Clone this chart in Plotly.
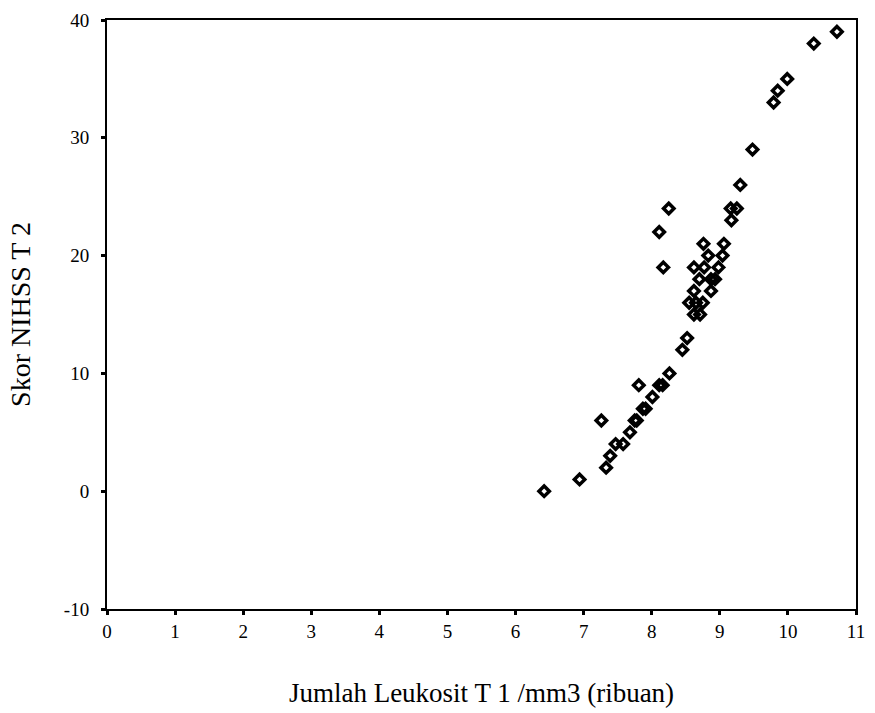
import plotly.graph_objects as go

leukosit = [6.42, 6.94, 7.33, 7.39, 7.47, 7.58, 7.68, 7.26, 7.75, 7.78, 7.87, 7.91,
            8.01, 7.81, 8.11, 8.16, 8.26, 8.45, 8.52, 8.62, 8.71, 8.55, 8.65, 8.75,
            8.62, 8.87, 8.70, 8.87, 8.93, 8.17, 8.62, 8.77, 8.98, 8.83, 9.04, 8.76,
            9.06, 8.11, 9.17, 8.25, 9.16, 9.25, 9.30, 9.48, 9.79, 9.85, 9.99, 10.38, 10.72]
nihss = [0, 1, 2, 3, 4, 4, 5, 6, 6, 6, 7, 7,
         8, 9, 9, 9, 10, 12, 13, 15, 15, 16, 16, 16,
         17, 17, 18, 18, 18, 19, 19, 19, 19, 20, 20, 21,
         21, 22, 23, 24, 24, 24, 26, 29, 33, 34, 35, 38, 39]

x_ticks = list(range(0, 12))
y_ticks = [-10, 0, 10, 20, 30, 40]

font_family = "Liberation Serif, Times New Roman, serif"

fig = go.Figure()
fig.add_trace(go.Scatter(
    x=leukosit, y=nihss, mode="markers",
    marker=dict(symbol="diamond-open", size=8, color="black",
                line=dict(color="black", width=3.5)),
    showlegend=False,
))

fig.update_layout(
    width=875, height=713,
    margin=dict(l=107, r=10, t=19, b=102),
    paper_bgcolor="white", plot_bgcolor="white",
    font=dict(family=font_family, color="black"),
    xaxis=dict(
        range=[0, 11], tickvals=x_ticks, ticktext=[str(v) for v in x_ticks],
        showgrid=False, zeroline=False,
        showline=True, linecolor="black", linewidth=2, mirror=True,
        ticks="outside", ticklen=4, tickwidth=3, tickcolor="black",
        tickfont=dict(size=19, family=font_family),
        title=dict(text="Jumlah Leukosit T 1 /mm3 (ribuan)",
                   font=dict(size=27, family=font_family), standoff=42),
    ),
    yaxis=dict(
        range=[-10, 40], tickvals=y_ticks, ticktext=[str(v) for v in y_ticks],
        showgrid=False, zeroline=False,
        showline=True, linecolor="black", linewidth=2, mirror=True,
        ticks="outside", ticklen=4, tickwidth=3, tickcolor="black",
        ticklabelstandoff=8,
        tickfont=dict(size=19, family=font_family),
        title=dict(text="Skor NIHSS T 2",
                   font=dict(size=28, family=font_family), standoff=25),
    ),
)

fig.write_html(
    "out.html",
    config={"displayModeBar": False},
    post_script="document.body.style.margin='0';document.body.style.overflow='hidden';",
)
